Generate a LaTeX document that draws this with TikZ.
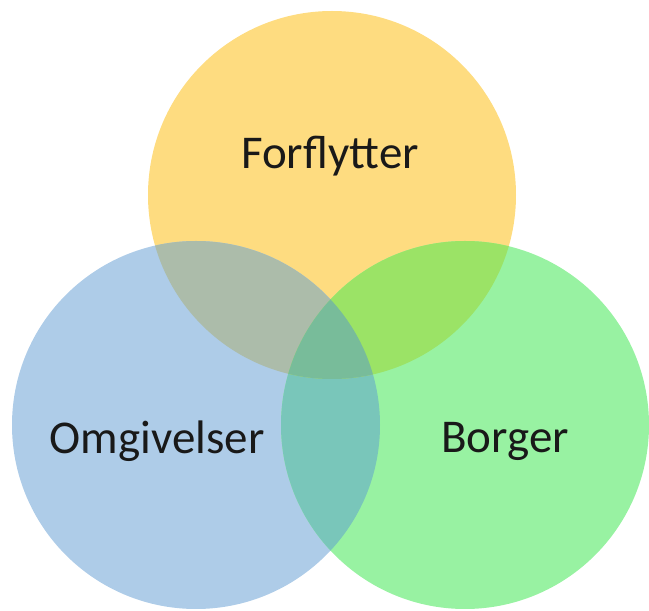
\documentclass[tikz,border=0pt]{standalone}
\usepackage{fontspec}
\setmainfont{Carlito}
\definecolor{cy}{HTML}{FEDC80}
\definecolor{cb}{HTML}{AECCE8}
\definecolor{cg}{HTML}{98F2A2}
\definecolor{cyb}{HTML}{ACBCAA}
\definecolor{cyg}{HTML}{9BE366}
\definecolor{cbg}{HTML}{79C6BA}
\definecolor{cybg}{HTML}{78BC9A}
\begin{document}
\begin{tikzpicture}[x=1pt,y=1pt,
  lbl/.style={font=\fontsize{47}{54}\selectfont, text=black!90, inner sep=0pt}]
\useasboundingbox (0,0) rectangle (649,611);
\coordinate (Y) at (332,416);
\coordinate (B) at (196,186);
\coordinate (G) at (465,186);
\def\R{184}
\fill[cy] (Y) circle (\R);
\fill[cb] (B) circle (\R);
\fill[cg] (G) circle (\R);
\begin{scope}
  \clip (B) circle (\R);
  \fill[cbg] (G) circle (\R);
\end{scope}
\begin{scope}
  \clip (Y) circle (\R);
  \fill[cyb] (B) circle (\R);
  \fill[cyg] (G) circle (\R);
  \clip (B) circle (\R);
  \fill[cybg] (G) circle (\R);
\end{scope}
\node[lbl] (tf) at (330,455) {Forflytter};
\node[lbl] (to) at (157,170) {Omgivelser};
\node[lbl] (tb) at (505,170) {Borger};
\end{tikzpicture}
\end{document}
